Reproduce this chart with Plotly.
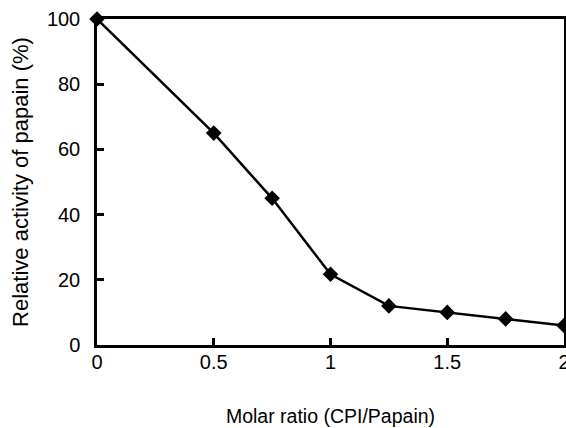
import plotly.graph_objects as go

molar_ratio = [0, 0.5, 0.75, 1.0, 1.25, 1.5, 1.75, 2.0]
relative_activity = [100, 65, 45, 21.7, 12, 10, 8, 6]
x_ticks = [0, 0.5, 1, 1.5, 2]
x_tick_labels = ["0", "0.5", "1", "1.5", "2"]
y_ticks = [0, 20, 40, 60, 80, 100]

fig = go.Figure()
fig.add_trace(go.Scatter(
    x=molar_ratio, y=relative_activity,
    mode="lines+markers",
    line=dict(color="black", width=2.5),
    marker=dict(symbol="diamond", size=12, color="black"),
    cliponaxis=False,
    showlegend=False,
))

font = "Liberation Sans, Arial, sans-serif"
fig.update_layout(
    width=566, height=428,
    margin=dict(l=97, r=2, t=19, b=83),
    paper_bgcolor="white", plot_bgcolor="white",
    font=dict(family=font, color="black", size=20),
    xaxis=dict(
        range=[0, 2], tickvals=x_ticks, ticktext=x_tick_labels,
        ticks="inside", ticklen=7, tickwidth=2.5, tickcolor="black",
        showline=True, linecolor="black", linewidth=2.5, mirror=True,
        showgrid=False, zeroline=False, automargin=False,
        tickfont=dict(size=20), ticklabelstandoff=-3, ticklabeloverflow="allow",
        title=dict(text="Molar ratio (CPI/Papain)", font=dict(size=19.5), standoff=38),
    ),
    yaxis=dict(
        range=[0, 100], tickvals=y_ticks,
        ticks="inside", ticklen=7, tickwidth=2.5, tickcolor="black",
        showline=True, linecolor="black", linewidth=2.5, mirror=True,
        showgrid=False, zeroline=False, automargin=False,
        tickfont=dict(size=20), ticklabelstandoff=10,
        title=dict(text="Relative activity of papain (%)", font=dict(size=22), standoff=13),
    ),
)
fig.write_html(
    "out.html",
    config={"displayModeBar": False},
    post_script="document.body.style.margin='0';document.body.style.padding='0';",
)
